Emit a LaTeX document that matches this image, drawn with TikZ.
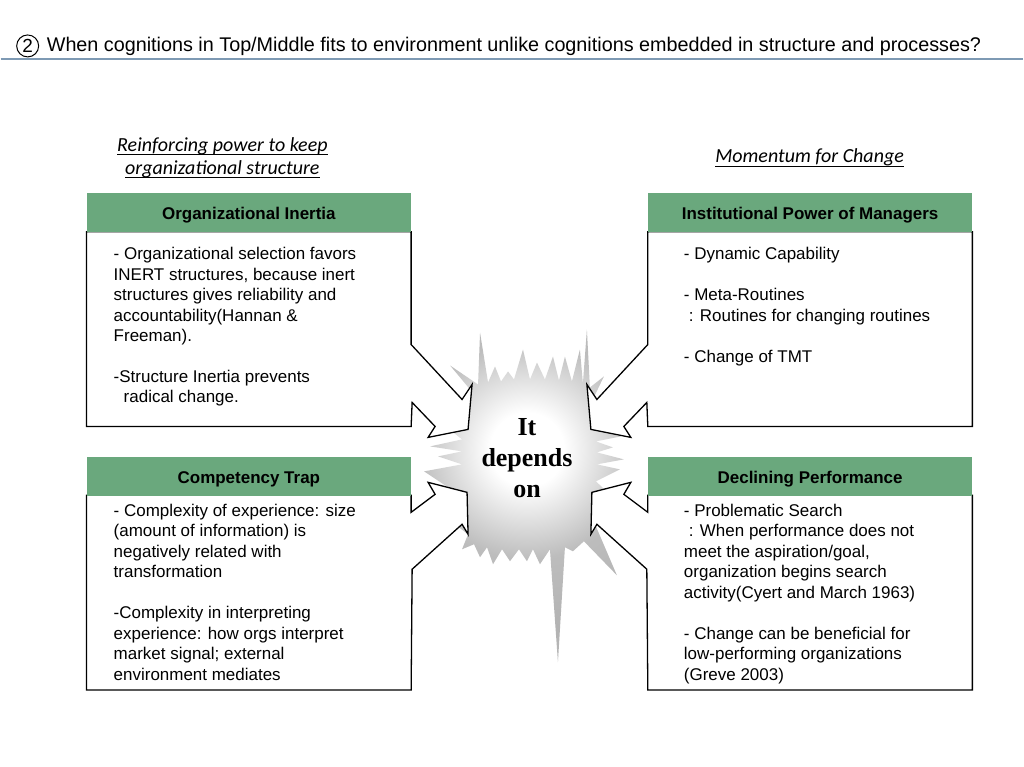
\documentclass[tikz,border=0pt]{standalone}
\usepackage{fontspec}
\setmainfont{Liberation Sans}
\newfontfamily\calibfont{Carlito}
\newfontfamily\timesfont{Liberation Serif}
\usetikzlibrary{positioning}
\definecolor{hdrgreen}{RGB}{106,168,125}
\definecolor{rulecol}{RGB}{126,154,180}
\newcommand{\undl}[1]{\setbox0\hbox{#1}\rlap{\rule[-3.5pt]{\wd0}{0.9pt}}\box0}
\pgfdeclareradialshading{burst}{\pgfpoint{0bp}{0bp}}{color(0bp)=(white); color(4bp)=(white); color(12bp)=(white!74!black); color(20bp)=(white!70!black); color(50bp)=(white!90!black)}

\begin{document}
\begin{tikzpicture}[x=1pt, y=-1pt, every node/.style={inner sep=0pt},
	hdr/.style={fill=hdrgreen, minimum width=325pt, minimum height=39pt, text height=14pt, text depth=0pt, font=\fontsize{17}{20.5}\selectfont\bfseries},
	body/.style={anchor=north west, align=left, font=\fontsize{17}{20.5}\selectfont},
	lbl/.style={align=center, font=\calibfont\itshape\fontsize{20}{23}\selectfont},
	callout/.style={draw, fill=white, line width=1.3pt, line join=miter}]
	\fill[white] (0,0) rectangle (1024,768);
	% title
	\node[draw, circle, line width=1pt, minimum size=22pt, font=\fontsize{19}{20}\selectfont] (num) at (27,46) {2};
	\node[anchor=base west, font=\fontsize{19.8}{22}\selectfont] (title) at (46,52) {When cognitions in Top/Middle fits to environment unlike cognitions embedded in structure and processes?};
	\draw[rulecol, line width=1.4pt] (0,59) -- (1024,59);
	% it depends on
	\begin{scope}
		\clip (470,390) -- (450,366) -- (478,385) -- (480,333) -- (488,383) -- (495,367) -- (501,382) -- (508,372) -- (514,380) -- (523,350) -- (530,380) -- (537,363) -- (545,380) -- (553,357) -- (559,381) -- (565,357) -- (572,382) -- (580,350) -- (583,384) -- (587,330) -- (590,388) -- (604,377) -- (592,402) -- (624,423) -- (594,430) -- (621,437) -- (596,442) -- (613,448) -- (597,453) -- (624,460) -- (597,465) -- (620,470) -- (596,482) -- (612,497) -- (593,520) -- (617,576) -- (584,542) -- (573,552) -- (565,548) -- (558,663) -- (550,550) -- (540,565) -- (533,550) -- (527,562) -- (519,550) -- (510,562) -- (502,550) -- (493,565) -- (487,548) -- (480,558) -- (474,545) -- (462,550) -- (468,535) -- (430,506) -- (466,500) -- (424,472) -- (462,465) -- (438,457) -- (462,452) -- (430,447) -- (462,440) -- (433,417) -- (465,420) -- (420,408) -- (468,402) -- cycle;
		\shade[shading=burst] (527,450) circle (230);
	\end{scope}
	\node[align=center, font=\timesfont\bfseries\fontsize{26}{31}\selectfont] (dep) at (527,459) {It\\depends\\on};
	% boxes
	\draw[callout] (86,232) -- (411,232) -- (411,345) -- (462,400) -- (472,385) -- (468,430) -- (428,438) -- (435,427) -- (412,403) -- (411,427) -- (86,427) -- cycle;
	\draw[callout] (973,232) -- (648,232) -- (648,345) -- (597,400) -- (587,385) -- (591,430) -- (631,438) -- (624,427) -- (647,403) -- (648,427) -- (973,427) -- cycle;
	\draw[callout] (86,496) -- (411,496) -- (411,513) -- (435,495) -- (428,483) -- (467,493) -- (468,535) -- (462,525) -- (412,570) -- (411,691) -- (86,691) -- cycle;
	\draw[callout] (973,496) -- (648,496) -- (648,513) -- (624,495) -- (631,483) -- (592,493) -- (591,535) -- (597,525) -- (647,570) -- (648,691) -- (973,691) -- cycle;
	\node[hdr] (inertia) at (248.5,212.5) {Organizational Inertia};
	\node[hdr] (power) at (810.5,212.5) {Institutional Power of Managers};
	\node[hdr] (trap) at (248.5,477) {Competency Trap};
	\node[hdr] (decline) at (810.5,477) {Declining Performance};
	\node[lbl] (keep) at (222,158) {\undl{Reinforcing power to keep}\\\undl{organizational structure}};
	\node[lbl] (momentum) at (810,158) {\undl{Momentum for Change}};
	\node[body] (inertiatxt) at (113,247.5) {- Organizational selection favors\\INERT structures, because inert\\structures gives reliability and\\accountability(Hannan \&\\Freeman).\\[20.5pt]-Structure Inertia prevents\\\hspace*{10pt}radical change.};
	\node[body] (powertxt) at (684,247.5) {- Dynamic Capability\\[20.5pt]- Meta-Routines\\\hspace*{5pt}: Routines for changing routines\\[20.5pt]- Change of TMT};
	\node[body] (traptxt) at (113,504.5) {- Complexity of experience: size\\(amount of information) is\\negatively related with\\transformation\\[20.5pt]-Complexity in interpreting\\experience: how orgs interpret\\market signal; external\\environment mediates};
	\node[body] (declinetxt) at (684,504.5) {- Problematic Search\\\hspace*{5pt}: When performance does not\\meet the aspiration/goal,\\organization begins search\\activity(Cyert and March 1963)\\[20.5pt]- Change can be beneficial for\\low-performing organizations\\(Greve 2003)};
\end{tikzpicture}
\end{document}
